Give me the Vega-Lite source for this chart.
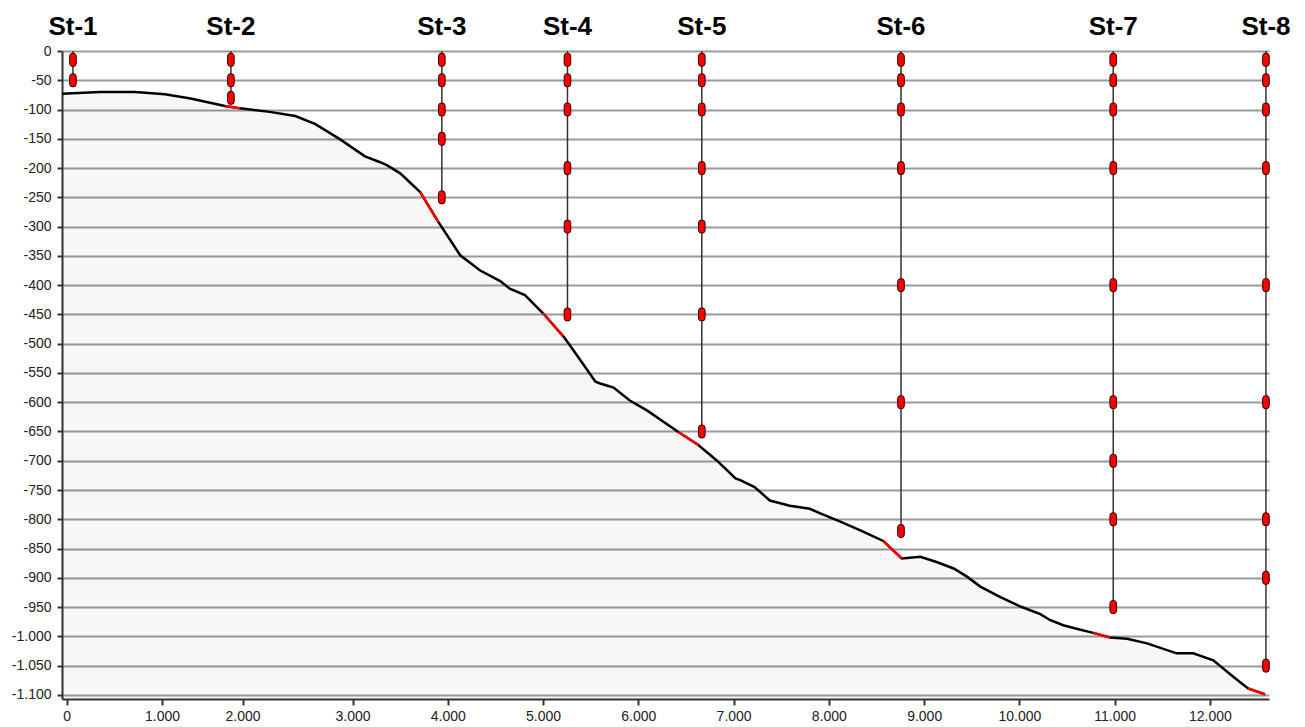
{
  "$schema": "https://vega.github.io/schema/vega-lite/v6.json",
  "width": 1207,
  "height": 648,
  "autosize": {"type": "none"},
  "padding": {"left": 62, "top": 51, "right": 36, "bottom": 28},
  "background": "white",
  "config": {
    "view": {"stroke": null},
    "axis": {
      "labelFont": "Liberation Sans",
      "labelFontSize": 14,
      "labelColor": "#222",
      "domainColor": "#333",
      "domainWidth": 2,
      "tickColor": "#333",
      "tickWidth": 2,
      "labelOverlap": false,
      "title": null
    }
  },
  "datasets": {
    "profile": [
      {"x": -50, "depth": -73},
      {"x": 350, "depth": -70},
      {"x": 720, "depth": -70},
      {"x": 1030, "depth": -74},
      {"x": 1300, "depth": -81},
      {"x": 1660, "depth": -94, "seg": "s2"},
      {"x": 1820, "depth": -98, "seg": "s2"},
      {"x": 2130, "depth": -104},
      {"x": 2400, "depth": -111},
      {"x": 2610, "depth": -125},
      {"x": 2870, "depth": -151},
      {"x": 3130, "depth": -180},
      {"x": 3290, "depth": -190},
      {"x": 3360, "depth": -195},
      {"x": 3500, "depth": -209},
      {"x": 3710, "depth": -241, "seg": "s3"},
      {"x": 3900, "depth": -292, "seg": "s3"},
      {"x": 4130, "depth": -349},
      {"x": 4340, "depth": -375},
      {"x": 4550, "depth": -393},
      {"x": 4650, "depth": -406},
      {"x": 4810, "depth": -417},
      {"x": 5000, "depth": -448, "seg": "s4"},
      {"x": 5210, "depth": -487, "seg": "s4"},
      {"x": 5270, "depth": -500},
      {"x": 5390, "depth": -528},
      {"x": 5550, "depth": -565},
      {"x": 5600, "depth": -568},
      {"x": 5740, "depth": -575},
      {"x": 5910, "depth": -597},
      {"x": 6090, "depth": -614},
      {"x": 6420, "depth": -651, "seg": "s5"},
      {"x": 6630, "depth": -673, "seg": "s5"},
      {"x": 6820, "depth": -699},
      {"x": 6930, "depth": -716},
      {"x": 7020, "depth": -730},
      {"x": 7070, "depth": -733},
      {"x": 7220, "depth": -745},
      {"x": 7380, "depth": -768},
      {"x": 7590, "depth": -777},
      {"x": 7800, "depth": -782},
      {"x": 7910, "depth": -790},
      {"x": 8120, "depth": -804},
      {"x": 8360, "depth": -821},
      {"x": 8570, "depth": -837, "seg": "s6"},
      {"x": 8765, "depth": -867, "seg": "s6"},
      {"x": 8960, "depth": -864},
      {"x": 9130, "depth": -873},
      {"x": 9310, "depth": -884},
      {"x": 9450, "depth": -898},
      {"x": 9590, "depth": -915},
      {"x": 9800, "depth": -933},
      {"x": 10010, "depth": -949},
      {"x": 10220, "depth": -962},
      {"x": 10320, "depth": -972},
      {"x": 10460, "depth": -981},
      {"x": 10600, "depth": -987},
      {"x": 10775, "depth": -994, "seg": "s7"},
      {"x": 10950, "depth": -1002, "seg": "s7"},
      {"x": 11130, "depth": -1004},
      {"x": 11340, "depth": -1012},
      {"x": 11650, "depth": -1029},
      {"x": 11825, "depth": -1029},
      {"x": 12035, "depth": -1041},
      {"x": 12245, "depth": -1069},
      {"x": 12400, "depth": -1089, "seg": "s8"},
      {"x": 12580, "depth": -1099, "seg": "s8"}
    ],
    "stations": [
      {"st": "St-1", "x": 65, "maxdepth": -50},
      {"st": "St-2", "x": 1723, "maxdepth": -80},
      {"st": "St-3", "x": 3937, "maxdepth": -250},
      {"st": "St-4", "x": 5256, "maxdepth": -450},
      {"st": "St-5", "x": 6666, "maxdepth": -650},
      {"st": "St-6", "x": 8757, "maxdepth": -820},
      {"st": "St-7", "x": 10985, "maxdepth": -950},
      {"st": "St-8", "x": 12588, "maxdepth": -1050}
    ],
    "samples": [
      {"st": "St-1", "x": 65, "depth": -15},
      {"st": "St-1", "x": 65, "depth": -50},
      {"st": "St-2", "x": 1723, "depth": -15},
      {"st": "St-2", "x": 1723, "depth": -50},
      {"st": "St-2", "x": 1723, "depth": -80},
      {"st": "St-3", "x": 3937, "depth": -15},
      {"st": "St-3", "x": 3937, "depth": -50},
      {"st": "St-3", "x": 3937, "depth": -100},
      {"st": "St-3", "x": 3937, "depth": -150},
      {"st": "St-3", "x": 3937, "depth": -250},
      {"st": "St-4", "x": 5256, "depth": -15},
      {"st": "St-4", "x": 5256, "depth": -50},
      {"st": "St-4", "x": 5256, "depth": -100},
      {"st": "St-4", "x": 5256, "depth": -200},
      {"st": "St-4", "x": 5256, "depth": -300},
      {"st": "St-4", "x": 5256, "depth": -450},
      {"st": "St-5", "x": 6666, "depth": -15},
      {"st": "St-5", "x": 6666, "depth": -50},
      {"st": "St-5", "x": 6666, "depth": -100},
      {"st": "St-5", "x": 6666, "depth": -200},
      {"st": "St-5", "x": 6666, "depth": -300},
      {"st": "St-5", "x": 6666, "depth": -450},
      {"st": "St-5", "x": 6666, "depth": -650},
      {"st": "St-6", "x": 8757, "depth": -15},
      {"st": "St-6", "x": 8757, "depth": -50},
      {"st": "St-6", "x": 8757, "depth": -100},
      {"st": "St-6", "x": 8757, "depth": -200},
      {"st": "St-6", "x": 8757, "depth": -400},
      {"st": "St-6", "x": 8757, "depth": -600},
      {"st": "St-6", "x": 8757, "depth": -820},
      {"st": "St-7", "x": 10985, "depth": -15},
      {"st": "St-7", "x": 10985, "depth": -50},
      {"st": "St-7", "x": 10985, "depth": -100},
      {"st": "St-7", "x": 10985, "depth": -200},
      {"st": "St-7", "x": 10985, "depth": -400},
      {"st": "St-7", "x": 10985, "depth": -600},
      {"st": "St-7", "x": 10985, "depth": -700},
      {"st": "St-7", "x": 10985, "depth": -800},
      {"st": "St-7", "x": 10985, "depth": -950},
      {"st": "St-8", "x": 12588, "depth": -15},
      {"st": "St-8", "x": 12588, "depth": -50},
      {"st": "St-8", "x": 12588, "depth": -100},
      {"st": "St-8", "x": 12588, "depth": -200},
      {"st": "St-8", "x": 12588, "depth": -400},
      {"st": "St-8", "x": 12588, "depth": -600},
      {"st": "St-8", "x": 12588, "depth": -800},
      {"st": "St-8", "x": 12588, "depth": -900},
      {"st": "St-8", "x": 12588, "depth": -1050}
    ]
  },
  "encoding": {
    "x": {
      "field": "x",
      "type": "quantitative",
      "scale": {"domain": [-50, 12620], "nice": false, "zero": false},
      "axis": {
        "values": [0, 1000, 1845, 3000, 4000, 5000, 6000, 7000, 8000, 9000, 10000, 11000, 12000],
        "labelExpr": "datum.value == 1845 ? '2.000' : replace(format(datum.value, ','), ',', '.')",
        "grid": false,
        "tickSize": 6,
        "labelPadding": 4
      }
    }
  },
  "layer": [
    {
      "data": {"name": "profile"},
      "mark": {"type": "area", "fill": "#000", "fillOpacity": 0.03},
      "encoding": {
        "y": {
          "field": "depth",
          "type": "quantitative",
          "scale": {"domain": [-1107, 0], "nice": false, "zero": false},
          "axis": {
            "values": [0, -50, -100, -150, -200, -250, -300, -350, -400, -450, -500, -550, -600, -650, -700, -750, -800, -850, -900, -950, -1000, -1050, -1100],
            "labelExpr": "(datum.value < 0 ? '-' : '') + replace(format(abs(datum.value), ','), ',', '.')",
            "grid": true,
            "gridColor": "#9a9a9a",
            "gridWidth": 2,
            "tickSize": 5,
            "labelPadding": 6
          }
        },
        "y2": {"datum": -1107}
      }
    },
    {
      "data": {"name": "profile"},
      "mark": {"type": "line", "color": "#000", "strokeWidth": 2.5},
      "encoding": {
        "y": {
          "field": "depth",
          "type": "quantitative",
          "scale": {"domain": [-1107, 0], "nice": false, "zero": false},
          "axis": {
            "values": [0, -50, -100, -150, -200, -250, -300, -350, -400, -450, -500, -550, -600, -650, -700, -750, -800, -850, -900, -950, -1000, -1050, -1100],
            "labelExpr": "(datum.value < 0 ? '-' : '') + replace(format(abs(datum.value), ','), ',', '.')",
            "grid": true,
            "gridColor": "#9a9a9a",
            "gridWidth": 2,
            "tickSize": 5,
            "labelPadding": 6
          }
        }
      }
    },
    {
      "data": {"name": "profile"},
      "transform": [{"filter": "isValid(datum.seg)"}],
      "mark": {"type": "line", "color": "#ff0000", "strokeWidth": 2.5},
      "encoding": {
        "y": {
          "field": "depth",
          "type": "quantitative",
          "scale": {"domain": [-1107, 0], "nice": false, "zero": false},
          "axis": {
            "values": [0, -50, -100, -150, -200, -250, -300, -350, -400, -450, -500, -550, -600, -650, -700, -750, -800, -850, -900, -950, -1000, -1050, -1100],
            "labelExpr": "(datum.value < 0 ? '-' : '') + replace(format(abs(datum.value), ','), ',', '.')",
            "grid": true,
            "gridColor": "#9a9a9a",
            "gridWidth": 2,
            "tickSize": 5,
            "labelPadding": 6
          }
        },
        "detail": {"field": "seg"}
      }
    },
    {
      "data": {"name": "stations"},
      "mark": {"type": "rule", "color": "#333", "strokeWidth": 1.5},
      "encoding": {
        "y": {
          "field": "maxdepth",
          "type": "quantitative",
          "scale": {"domain": [-1107, 0], "nice": false, "zero": false},
          "axis": {
            "values": [0, -50, -100, -150, -200, -250, -300, -350, -400, -450, -500, -550, -600, -650, -700, -750, -800, -850, -900, -950, -1000, -1050, -1100],
            "labelExpr": "(datum.value < 0 ? '-' : '') + replace(format(abs(datum.value), ','), ',', '.')",
            "grid": true,
            "gridColor": "#9a9a9a",
            "gridWidth": 2,
            "tickSize": 5,
            "labelPadding": 6
          }
        },
        "y2": {"datum": -0.001}
      }
    },
    {
      "data": {"name": "samples"},
      "mark": {
        "type": "point",
        "shape": "M-0.5,-0.55Q-0.5,-1 0,-1Q0.5,-1 0.5,-0.55L0.5,0.55Q0.5,1 0,1Q-0.5,1 -0.5,0.55Z",
        "size": 175,
        "filled": true,
        "fill": "#ff0000",
        "stroke": "#2a0000",
        "strokeWidth": 1,
        "opacity": 1
      },
      "encoding": {
        "y": {
          "field": "depth",
          "type": "quantitative",
          "scale": {"domain": [-1107, 0], "nice": false, "zero": false},
          "axis": {
            "values": [0, -50, -100, -150, -200, -250, -300, -350, -400, -450, -500, -550, -600, -650, -700, -750, -800, -850, -900, -950, -1000, -1050, -1100],
            "labelExpr": "(datum.value < 0 ? '-' : '') + replace(format(abs(datum.value), ','), ',', '.')",
            "grid": true,
            "gridColor": "#9a9a9a",
            "gridWidth": 2,
            "tickSize": 5,
            "labelPadding": 6
          }
        }
      }
    },
    {
      "data": {"name": "stations"},
      "mark": {
        "type": "text",
        "font": "Liberation Sans",
        "fontWeight": "bold",
        "fontSize": 26,
        "color": "#000",
        "baseline": "alphabetic",
        "align": "center",
        "dy": -16
      },
      "encoding": {
        "y": {
          "datum": -0.001,
          "type": "quantitative",
          "scale": {"domain": [-1107, 0], "nice": false, "zero": false},
          "axis": {
            "values": [0, -50, -100, -150, -200, -250, -300, -350, -400, -450, -500, -550, -600, -650, -700, -750, -800, -850, -900, -950, -1000, -1050, -1100],
            "labelExpr": "(datum.value < 0 ? '-' : '') + replace(format(abs(datum.value), ','), ',', '.')",
            "grid": true,
            "gridColor": "#9a9a9a",
            "gridWidth": 2,
            "tickSize": 5,
            "labelPadding": 6
          }
        },
        "text": {"field": "st"}
      }
    }
  ]
}
